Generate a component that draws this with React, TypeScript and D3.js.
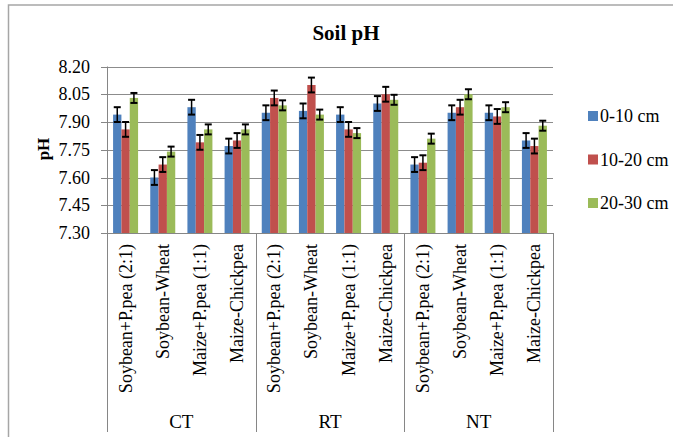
import React from "react";
import * as d3 from "d3";

const groups = ["CT", "RT", "NT"];
const systems = ["Soybean+P.pea (2:1)", "Soybean-Wheat", "Maize+P.pea (1:1)", "Maize-Chickpea"];
const seriesNames = ["0-10 cm", "10-20 cm", "20-30 cm"];
const seriesColors = ["#4F81BD", "#C0504D", "#9BBB59"];
const yTicks = [7.3, 7.45, 7.6, 7.75, 7.9, 8.05, 8.2];

// order: CT(4), RT(4), NT(4)
const depth0to10 = [7.94, 7.60, 7.98, 7.77, 7.95, 7.96, 7.94, 8.00, 7.67, 7.95, 7.95, 7.80];
const depth10to20 = [7.86, 7.67, 7.79, 7.80, 8.03, 8.10, 7.86, 8.05, 7.68, 7.98, 7.93, 7.77];
const depth20to30 = [8.03, 7.74, 7.86, 7.86, 7.99, 7.94, 7.84, 8.02, 7.81, 8.05, 7.98, 7.88];
const err0to10 = [0.04, 0.04, 0.04, 0.04, 0.04, 0.04, 0.04, 0.04, 0.04, 0.04, 0.04, 0.04];
const err10to20 = [0.04, 0.04, 0.04, 0.04, 0.04, 0.04, 0.04, 0.04, 0.04, 0.04, 0.04, 0.04];
const err20to30 = [0.027, 0.027, 0.027, 0.027, 0.027, 0.027, 0.027, 0.027, 0.027, 0.027, 0.027, 0.027];

const seriesValues = [depth0to10, depth10to20, depth20to30];
const seriesErrors = [err0to10, err10to20, err20to30];

export default function App() {
  const W = 673, H = 437;
  const left = 107, right = 553, top = 66.5, bottom = 233;
  const cats = groups.flatMap((g) => systems.map((s) => g + "|" + s));
  const x0 = d3.scaleBand<string>().domain(cats).range([left, right]).padding(0);
  const groupW = 25;
  const x1 = d3.scaleBand<string>().domain(seriesNames).range([0, groupW]).padding(0);
  const y = d3.scaleLinear().domain([7.3, 8.2]).range([bottom, top]);
  const axisColor = "#868686";
  const gridColor = "#8c8c8c";
  const font = "Liberation Serif, Times New Roman, serif";
  const bw = x0.bandwidth();
  const groupScale = d3.scaleBand<string>().domain(groups).range([left, right]).padding(0);

  return (
    <div style={{ position: "absolute", left: 0, top: 0 }}>
      <svg width={W} height={H} style={{ display: "block", background: "#fff", fontFamily: font }}>
        <rect x={8.5} y={5} width={700} height={460} fill="#fff" stroke="#a6a6a6" strokeWidth={1.5} />
        <text x={346} y={40} textAnchor="middle" fontWeight="bold" fontSize={21} style={{ fontFamily: font }}>Soil pH</text>
        {yTicks.slice(1).map((t) => (
          <line key={"g" + t} x1={left} x2={right} y1={Math.round(y(t)) + 0.5} y2={Math.round(y(t)) + 0.5} stroke={gridColor} strokeWidth={1} />
        ))}
        <line x1={left + 0.5} x2={left + 0.5} y1={top} y2={bottom} stroke={axisColor} />
        {yTicks.map((t) => (
          <g key={"t" + t}>
            <line x1={left - 6} x2={left} y1={Math.round(y(t)) + 0.5} y2={Math.round(y(t)) + 0.5} stroke={axisColor} />
            <text x={90} y={y(t)} textAnchor="end" dominantBaseline="central" fontSize={18} style={{ fontFamily: font }}>{t.toFixed(2)}</text>
          </g>
        ))}
        <text transform={`translate(49,149) rotate(-90)`} textAnchor="middle" fontWeight="bold" fontSize={17} style={{ fontFamily: font }}>pH</text>
        {cats.map((c, i) => (
          <g key={c} transform={`translate(${(x0(c) as number) + (bw - groupW) / 2},0)`}>
            {seriesNames.map((s, k) => {
              const v = seriesValues[k][i];
              const e = seriesErrors[k][i];
              const bx = x1(s) as number;
              const cx = bx + x1.bandwidth() / 2;
              return (
                <g key={s}>
                  <rect x={bx} y={y(v)} width={x1.bandwidth()} height={y(7.3) - y(v)} fill={seriesColors[k]} />
                  <line x1={cx} x2={cx} y1={y(v + e)} y2={y(v - e)} stroke="#000" strokeWidth={1.5} />
                  <line x1={cx - 3.5} x2={cx + 3.5} y1={y(v + e)} y2={y(v + e)} stroke="#000" strokeWidth={2} />
                  <line x1={cx - 3.5} x2={cx + 3.5} y1={y(v - e)} y2={y(v - e)} stroke="#000" strokeWidth={2} />
                </g>
              );
            })}
          </g>
        ))}
        <line x1={left} x2={right} y1={bottom + 0.5} y2={bottom + 0.5} stroke={axisColor} />
        {[...groups.map((g) => groupScale(g) as number), right].map((gx, i) => (
          <line key={"sep" + i} x1={Math.round(gx) + 0.5} x2={Math.round(gx) + 0.5} y1={bottom} y2={432} stroke={axisColor} />
        ))}
        {cats.map((c, i) => (
          <text key={"l" + c} transform={`translate(${(x0(c) as number) + bw / 2},244) rotate(-90)`} textAnchor="end" dominantBaseline="central" fontSize={18} style={{ fontFamily: font }}>
            {systems[i % systems.length]}
          </text>
        ))}
        {groups.map((g) => (
          <text key={"gl" + g} x={(groupScale(g) as number) + groupScale.bandwidth() / 2} y={428} textAnchor="middle" fontSize={19} style={{ fontFamily: font }}>{g}</text>
        ))}
        {seriesNames.map((s, k) => {
          const ly = [116, 159.5, 203][k];
          return (
            <g key={"lg" + s}>
              <rect x={588} y={ly - 5} width={10} height={10} fill={seriesColors[k]} />
              <text x={600} y={ly} dominantBaseline="central" fontSize={18} style={{ fontFamily: font }}>{s}</text>
            </g>
          );
        })}
      </svg>
    </div>
  );
}
